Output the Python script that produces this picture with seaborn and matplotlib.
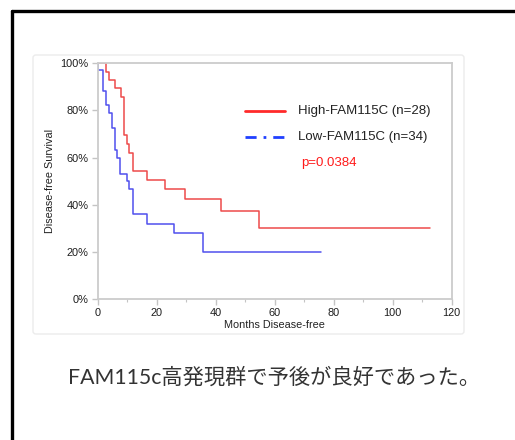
import numpy as np
import pandas as pd
import matplotlib
matplotlib.use("Agg")
import matplotlib.pyplot as plt
import seaborn as sns
from matplotlib.lines import Line2D
from matplotlib.patches import FancyBboxPatch
from matplotlib.ticker import PercentFormatter, MultipleLocator

# Kaplan-Meier step points (months, % disease-free)
high_t = [0, 2.8, 3.7, 5.9, 7.8, 8.9, 9.8, 10.7, 11.9, 16.8, 22.8, 29.6, 41.8, 54.6, 112.6]
high_s = [100, 96.4, 92.9, 89.3, 85.7, 69.7, 65.9, 62.0, 54.4, 50.4, 46.5, 42.4, 37.5, 30.0, 30.0]
low_t = [0, 0.2, 1.9, 2.8, 3.7, 4.7, 5.9, 6.7, 7.6, 9.8, 10.7, 11.8, 16.8, 25.9, 35.8, 75.7]
low_s = [100, 97.1, 88.2, 82.1, 79.0, 72.5, 63.0, 60.0, 53.2, 50.0, 46.6, 35.9, 32.0, 28.0, 20.0, 20.0]

labels = ["High-FAM115C (n=28)", "Low-FAM115C (n=34)"]
p_text = "p=0.0384"
caption = "FAM115c高発現群で予後が良好であった。"

x_ticks = [0, 20, 40, 60, 80, 100, 120]
y_ticks = [0, 20, 40, 60, 80, 100]

sns.set_style("white")
plt.rcParams['font.family'] = ['Liberation Sans', 'DejaVu Sans']

fig = plt.figure(figsize=(5.15, 4.4), dpi=100)

# slide frame (black lines on top and left) and faint chart panel
fig.add_artist(Line2D([11.5 / 515, 11.5 / 515], [0, 1 - 11.5 / 440], color='black', lw=2.4, zorder=-2))
fig.add_artist(Line2D([11.5 / 515, 1], [1 - 11.5 / 440, 1 - 11.5 / 440], color='black', lw=2.4, zorder=-2))
fig.add_artist(FancyBboxPatch((33 / 515, 1 - 334 / 440), 431 / 515, 279 / 440,
                              boxstyle="round,pad=0,rounding_size=0.006",
                              transform=fig.transFigure, facecolor='white',
                              edgecolor='#ececec', lw=1.0, zorder=-2))

ax = fig.add_axes([97.7 / 515, 1 - 299.3 / 440, 354 / 515, 236.3 / 440])
ax.set_facecolor('none')

df_high = pd.DataFrame({'t': high_t, 's': high_s})
df_low = pd.DataFrame({'t': low_t, 's': low_s})
sns.lineplot(data=df_high, x='t', y='s', drawstyle='steps-post', color='#ee4a4a',
             lw=1.1, estimator=None, sort=False, ax=ax)
sns.lineplot(data=df_low, x='t', y='s', drawstyle='steps-post', color='#5050ee',
             lw=1.1, estimator=None, sort=False, ax=ax)

ax.set_xlim(0, 120)
ax.set_ylim(0, 100)
ax.set_xticks(x_ticks)
ax.set_yticks(y_ticks)
ax.xaxis.set_minor_locator(MultipleLocator(10))
ax.yaxis.set_major_formatter(PercentFormatter(decimals=0))
for sp in ax.spines.values():
    sp.set_color('#cccccc')
    sp.set_linewidth(1.3)
ax.tick_params(axis='both', which='major', direction='out', length=4.5, width=1,
               color='#c4c4c4', labelsize=7.9, labelcolor='#1e1e1e', pad=2,
               left=True, bottom=True)
ax.tick_params(axis='x', which='minor', direction='out', length=2.5, width=0.8,
               color='#c4c4c4', bottom=True)
ax.set_xlabel("Months Disease-free", fontsize=7.8, color='#222222', labelpad=1.5)
ax.set_ylabel("Disease-free Survival", fontsize=7.8, color='#222222', labelpad=4)

# legend drawn by hand (the low group uses a dash-dot key)
ax.plot([0.416, 0.529], [0.797, 0.797], transform=ax.transAxes, color='#ff2a2a', lw=2)
ax.plot([0.416, 0.529], [0.687, 0.687], transform=ax.transAxes, color='#2040ff', lw=2,
        linestyle=(0, (4, 2.5, 1, 2.5)))
ax.text(0.566, 0.797, labels[0], transform=ax.transAxes, fontsize=9.5,
        color='#222222', va='center', ha='left')
ax.text(0.566, 0.687, labels[1], transform=ax.transAxes, fontsize=9.5,
        color='#222222', va='center', ha='left')
ax.text(0.574, 0.577, p_text, transform=ax.transAxes, fontsize=9.5,
        color='#ff1a1a', va='center', ha='left')

fig.text(274 / 515, 1 - 378 / 440, caption, fontsize=15.3, color='#333333',
         ha='center', va='center',
         family=['Lato', 'Noto Sans CJK JP', 'DejaVu Sans'])

plt.savefig("out.png", dpi=100)
